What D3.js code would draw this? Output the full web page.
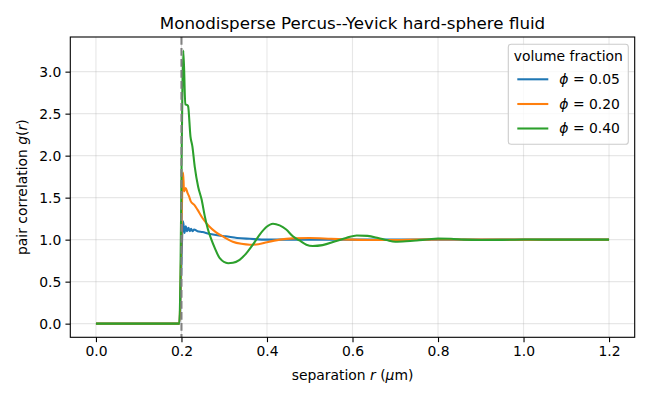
<!DOCTYPE html>
<html>
<head>
<meta charset="utf-8">
<script src="https://cdn.jsdelivr.net/npm/d3@7"></script>
<style>
  html, body { margin: 0; padding: 0; background: #fff; }
  svg text { font-family: "DejaVu Sans", sans-serif; }
</style>
</head>
<body>
<svg id="chart" width="650" height="400"></svg>
<script>
// ---- data ----
const xTicks = [0.0, 0.2, 0.4, 0.6, 0.8, 1.0, 1.2];
const yTicks = [0.0, 0.5, 1.0, 1.5, 2.0, 2.5, 3.0];
const seriesLabels = ["0.05", "0.20", "0.40"];
const seriesColors = ["#1f77b4", "#ff7f0e", "#2ca02c"];
const contactDiameter = 0.2;

const rBlue = [0, 0.195, 0.2038, 0.2071, 0.2101, 0.2132, 0.2164, 0.2195, 0.2225, 0.2258, 0.2295, 0.2374, 0.2491, 0.2645, 0.2879, 0.3035, 0.33, 0.36, 0.40, 0.5, 0.6, 0.7, 0.8, 0.9, 1.0, 1.1, 1.2];
const gBlue = [0, 0, 1.22, 1.08, 1.16, 1.10, 1.14, 1.10, 1.13, 1.10, 1.12, 1.10, 1.09, 1.07, 1.05, 1.04, 1.02, 1.01, 1.0, 1.0, 1.0, 1.0, 1.0, 1.0, 1.0, 1.0, 1.0];

const rOrange = [0, 0.195, 0.2038, 0.2061, 0.2101, 0.2141, 0.2178, 0.2218, 0.2295, 0.2374, 0.2491, 0.2645, 0.2802, 0.2995, 0.32, 0.34, 0.36, 0.38, 0.40, 0.43, 0.46, 0.50, 0.55, 0.60, 0.65, 0.70, 0.75, 0.80, 0.9, 1.0, 1.1, 1.2];
const gOrange = [0, 0, 1.80, 1.575, 1.615, 1.556, 1.516, 1.456, 1.417, 1.357, 1.258, 1.16, 1.09, 1.03, 0.975, 0.95, 0.94, 0.945, 0.97, 1.0, 1.015, 1.02, 1.01, 1.0, 0.995, 0.995, 1.0, 1.003, 1.0, 1.0, 1.0, 1.0];

const rGreen = [0, 0.195, 0.2045, 0.209, 0.214, 0.2155, 0.221, 0.2255, 0.231, 0.239, 0.247, 0.2545, 0.262, 0.270, 0.278, 0.2895, 0.309, 0.3205, 0.336, 0.352, 0.367, 0.383, 0.3985, 0.414, 0.4296, 0.445, 0.4606, 0.476, 0.492, 0.507, 0.53, 0.56, 0.585, 0.61, 0.635, 0.66, 0.68, 0.70, 0.725, 0.75, 0.78, 0.80, 0.83, 0.86, 0.90, 0.95, 1.0, 1.05, 1.1, 1.15, 1.2];
const gGreen = [0, 0, 3.25, 2.61, 2.60, 2.59, 2.23, 2.11, 1.87, 1.63, 1.48, 1.28, 1.12, 1.0, 0.90, 0.78, 0.72, 0.725, 0.76, 0.84, 0.94, 1.06, 1.15, 1.19, 1.17, 1.12, 1.04, 0.99, 0.94, 0.925, 0.935, 0.98, 1.02, 1.05, 1.045, 1.02, 0.995, 0.975, 0.98, 0.99, 1.005, 1.012, 1.01, 1.0, 0.995, 0.997, 1.002, 1.0, 1.0, 1.0, 1.0];

const series = [
  { r: rBlue, g: gBlue },
  { r: rOrange, g: gOrange },
  { r: rGreen, g: gGreen }
];

// ---- layout ----
const L = 70.3, R = 634.7, T = 37, B = 337.3;
const svg = d3.select("#chart");
const x = d3.scaleLinear().domain([-0.06, 1.26]).range([L, R]);
const y = d3.scaleLinear().domain([-0.1625, 3.4125]).range([B, T]);
const fs = 13.9;

// grid
const grid = svg.append("g");
grid.selectAll(".gx").data(xTicks).enter().append("line")
  .attr("x1", d => x(d)).attr("x2", d => x(d)).attr("y1", T).attr("y2", B)
  .attr("stroke", "#b0b0b0").attr("stroke-opacity", 0.3).attr("stroke-width", 1.1);
grid.selectAll(".gy").data(yTicks).enter().append("line")
  .attr("y1", d => y(d)).attr("y2", d => y(d)).attr("x1", L).attr("x2", R)
  .attr("stroke", "#b0b0b0").attr("stroke-opacity", 0.3).attr("stroke-width", 1.1);

// clip
svg.append("clipPath").attr("id", "clip").append("rect")
  .attr("x", L).attr("y", T).attr("width", R - L).attr("height", B - T);

const line = d3.line().x((d, i) => d[0]).y(d => d[1]).curve(d3.curveMonotoneX);
const plot = svg.append("g").attr("clip-path", "url(#clip)");
series.forEach((s, k) => {
  const pts = s.r.map((rv, i) => [x(rv), y(s.g[i])]);
  plot.append("path").attr("d", line(pts))
    .attr("fill", "none").attr("stroke", seriesColors[k])
    .attr("stroke-width", 2.08).attr("stroke-linejoin", "round").attr("stroke-linecap", "butt");
});

// dashed contact line
plot.append("line")
  .attr("x1", x(contactDiameter)).attr("x2", x(contactDiameter)).attr("y1", T).attr("y2", B)
  .attr("stroke", "#808080").attr("stroke-width", 2.08).attr("stroke-dasharray", "7.7,3.3");

// axes
const xAxis = d3.axisBottom(x).tickValues(xTicks).tickFormat(d3.format(".1f")).tickSize(4.86).tickPadding(4.2);
const yAxis = d3.axisLeft(y).tickValues(yTicks).tickFormat(d3.format(".1f")).tickSize(4.86).tickPadding(4.2);
const gx = svg.append("g").attr("transform", `translate(0,${B})`).call(xAxis);
const gy = svg.append("g").attr("transform", `translate(${L},0)`).call(yAxis);
[gx, gy].forEach(g => {
  g.select(".domain").remove();
  g.selectAll(".tick line").attr("stroke", "#000").attr("stroke-width", 1.1);
  g.selectAll(".tick text").attr("fill", "#000").style("font-size", fs + "px").style("font-family", "DejaVu Sans");
});

// spines
svg.append("rect").attr("x", L).attr("y", T).attr("width", R - L).attr("height", B - T)
  .attr("fill", "none").attr("stroke", "#000").attr("stroke-width", 1.1);

// title
svg.append("text").attr("x", (L + R) / 2).attr("y", 29.3).attr("text-anchor", "middle")
  .style("font-size", "16.7px").text("Monodisperse Percus--Yevick hard-sphere fluid");

// x label
const xl = svg.append("text").attr("x", (L + R) / 2).attr("y", 380).attr("text-anchor", "middle")
  .style("font-size", fs + "px");
xl.append("tspan").text("separation ");
xl.append("tspan").attr("font-style", "italic").text("r");
xl.append("tspan").text(" (");
xl.append("tspan").attr("font-style", "italic").text("μ");
xl.append("tspan").text("m)");

// y label
const yl = svg.append("text").attr("transform", `translate(27,${(T + B) / 2}) rotate(-90)`)
  .attr("text-anchor", "middle").style("font-size", fs + "px");
yl.append("tspan").text("pair correlation ");
yl.append("tspan").attr("font-style", "italic").text("g");
yl.append("tspan").text("(");
yl.append("tspan").attr("font-style", "italic").text("r");
yl.append("tspan").text(")");

// legend
const lg = svg.append("g");
lg.append("rect").attr("x", 508.3).attr("y", 44.3).attr("width", 120).attr("height", 100)
  .attr("rx", 2.8).attr("fill", "#fff").attr("fill-opacity", 0.8)
  .attr("stroke", "#cccccc").attr("stroke-width", 1.1);
lg.append("text").attr("x", 568.3).attr("y", 60.5).attr("text-anchor", "middle")
  .style("font-size", fs + "px").text("volume fraction");
const rowY = [79.3, 104, 128.5];
seriesLabels.forEach((lab, k) => {
  lg.append("line").attr("x1", 517.3).attr("x2", 548.3).attr("y1", rowY[k]).attr("y2", rowY[k])
    .attr("stroke", seriesColors[k]).attr("stroke-width", 2.08);
  const t = lg.append("text").attr("x", 559.3).attr("y", rowY[k] + 4.6).style("font-size", fs + "px");
  t.append("tspan").attr("font-style", "italic").text("ϕ");
  t.append("tspan").text(" = " + lab);
});
</script>
</body>
</html>
